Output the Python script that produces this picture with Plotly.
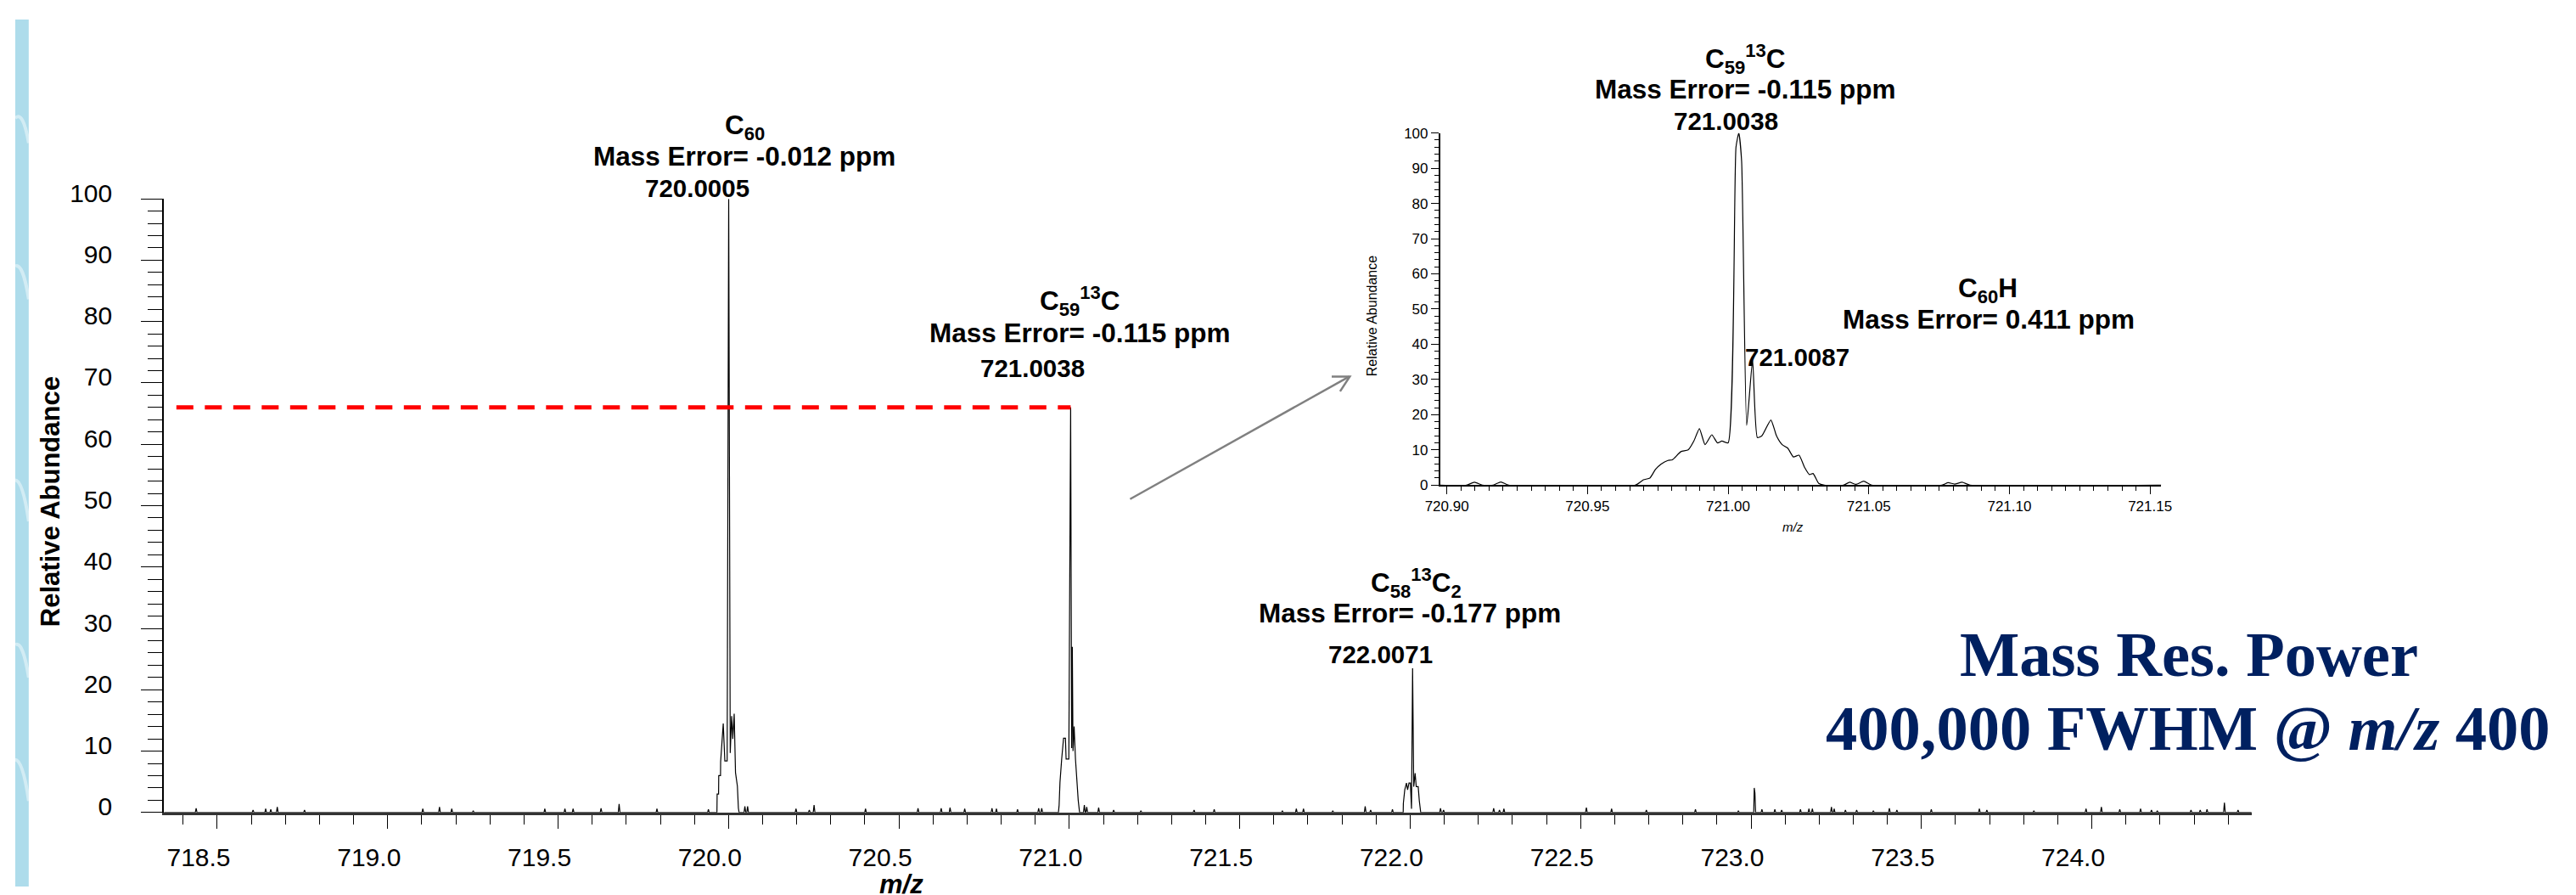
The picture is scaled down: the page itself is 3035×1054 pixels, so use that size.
import plotly.graph_objects as go

W, H = 3035, 1054

# ---------------- data ----------------
# main spectrum x-range (m/z)
main_range = [718.3436, 724.4688]

# small noise spikes on the baseline (m/z, relative abundance %)
noise_mz = [718.438, 718.605, 718.642, 718.657, 718.676, 718.756, 719.103, 719.152, 719.188,
            719.251, 719.461, 719.520, 719.544, 719.626, 719.679, 719.790, 719.941, 720.048,
            720.056, 720.198, 720.237, 720.251, 720.402, 720.556, 720.624, 720.650, 720.693,
            720.773, 720.786, 720.848, 720.910, 720.919, 721.044, 721.051, 721.086, 721.130,
            721.210, 721.366, 721.425, 721.625, 721.666, 721.687, 721.773, 721.868, 721.884,
            721.948, 722.089, 722.098, 722.245, 722.262, 722.275, 722.517, 722.591, 722.693,
            722.837, 722.963, 723.032, 723.070, 723.090, 723.145, 723.170, 723.180, 723.236,
            723.244, 723.277, 723.310, 723.359, 723.406, 723.428, 723.529, 723.670, 723.692,
            723.830, 723.983, 724.028, 724.082, 724.143, 724.175, 724.192, 724.291, 724.318,
            724.338, 724.389, 724.429]
noise_int = [0.7, 0.4, 0.6, 0.5, 0.9, 0.4, 0.6, 0.9, 0.6,
             0.3, 0.6, 0.6, 0.6, 0.7, 1.4, 0.6, 0.5, 1.0,
             1.0, 0.6, 0.4, 1.2, 0.6, 0.7, 0.7, 0.8, 0.6,
             0.7, 0.6, 0.5, 0.7, 0.7, 1.2, 0.9, 0.8, 0.4,
             0.3, 0.4, 0.5, 0.3, 0.6, 0.6, 0.3, 1.0, 0.4,
             0.5, 0.7, 0.4, 0.7, 0.4, 0.6, 0.8, 0.6, 0.4,
             0.5, 0.3, 0.5, 0.5, 0.4, 0.5, 0.6, 0.6, 0.9,
             0.6, 0.4, 0.4, 0.3, 0.7, 0.4, 0.5, 0.6, 0.4,
             0.3, 0.6, 0.9, 0.5, 0.6, 0.4, 0.3, 0.4, 0.4,
             0.5, 1.6, 0.4]

# isotope clusters (profile points)
c60_mz = [719.9660, 719.9666, 719.9708, 719.9713, 719.9765, 719.9769, 719.9845, 719.9892,
          719.9960, 720.0005, 720.0050, 720.0092, 720.0125, 720.0166, 720.0205, 720.0260,
          720.0290, 720.0310]
c60_int = [0, 3.0, 3.0, 6.0, 6.0, 8.3, 14.5, 8.4,
           8.4, 100.0, 9.7, 15.7, 12.0, 16.1, 6.5, 4.3,
           0.7, 0]

c721_mz = [720.9680, 720.9700, 720.9725, 720.9775, 720.9830, 720.9885, 720.9905, 720.9985,
           721.0038, 721.0068, 721.0087, 721.0108, 721.0140, 721.0180, 721.0215, 721.0260,
           721.0300]
c721_int = [0, 1.2, 4.9, 8.7, 12.1, 12.1, 8.7, 8.7,
            66.0, 10.5, 27.0, 10.0, 14.0, 8.7, 5.3, 2.0,
            0]

c722_mz = [721.9795, 721.9800, 721.9841, 721.9891, 721.9924, 721.9965, 722.0006, 722.0039,
           722.0071, 722.0104, 722.0145, 722.0178, 722.0235, 722.0268, 722.0309]
c722_int = [0, 1.5, 3.7, 4.8, 3.7, 4.8, 4.8, 0.6,
            23.5, 4.2, 6.4, 4.2, 4.2, 1.9, 0]

c723_mz = [723.0080, 723.0095, 723.0115, 723.0135]
c723_int = [0, 4.0, 3.2, 0]

# inset: zoom of the 721 cluster
inset_range = [720.8976, 721.1540]
inset_mz = [720.8976, 720.9070, 720.9098, 720.9126, 720.9165, 720.9192, 720.9220, 720.9670,
            720.9699, 720.9722, 720.9742, 720.9762, 720.9786, 720.9802, 720.9832, 720.9858,
            720.9878, 720.9898, 720.9918, 720.9942, 720.9962, 720.9978, 721.0000, 721.0028,
            721.0038, 721.0048, 721.0066, 721.0087, 721.0104, 721.0120, 721.0152, 721.0172,
            721.0192, 721.0212, 721.0232, 721.0252, 721.0272, 721.0289, 721.0302, 721.0322,
            721.0342, 721.0410, 721.0432, 721.0455, 721.0482, 721.0510, 721.0760, 721.0782,
            721.0805, 721.0832, 721.0860, 721.1540]
inset_int = [0, 0, 0.8, 0, 0, 0.9, 0, 0,
             1.5, 2.0, 4.5, 6.0, 7.0, 7.2, 9.5, 10.0,
             12.5, 16.0, 11.5, 14.3, 12.0, 12.5, 12.0, 96.0,
             100.0, 92.0, 17.0, 35.5, 13.5, 14.0, 18.5, 14.0,
             11.5, 10.5, 8.0, 8.5, 5.0, 3.0, 3.3, 0.5,
             0, 0, 0.8, 0.2, 1.1, 0, 0, 0.7,
             0.3, 0.8, 0, 0]

# reference level of the 13C isotope peak (dashed red line)
ref_level = 66.0
ref_start = 718.380
ref_end = 721.0038

# ---------------- build main profile ----------------
pts = [(main_range[0], 0.0), (main_range[1], 0.0)]
hw = 0.0025
for m, h in zip(noise_mz, noise_int):
    pts += [(m - hw, 0.0), (m, h), (m + hw, 0.0)]
for xs, ys in [(c60_mz, c60_int), (c721_mz, c721_int), (c722_mz, c722_int), (c723_mz, c723_int)]:
    pts += list(zip(xs, ys))
pts.sort(key=lambda p: p[0])
main_x = [p[0] for p in pts]
main_y = [p[1] for p in pts]

FONT = "Liberation Sans, Arial, sans-serif"
SERIF = "Liberation Serif, Times New Roman, serif"

fig = go.Figure()
fig.add_trace(go.Scatter(x=main_x, y=main_y, mode="lines",
                         line=dict(color="black", width=1.2), xaxis="x", yaxis="y",
                         hoverinfo="skip"))
fig.add_trace(go.Scatter(x=inset_mz, y=inset_int, mode="lines",
                         line=dict(color="black", width=1.2, shape="spline", smoothing=0.5),
                         xaxis="x2", yaxis="y2", hoverinfo="skip"))


def px(x):
    return x / W


def py(y):
    return 1 - y / H


annotations = []


def ann(text, x, y, size, weight="bold", style="normal", family=FONT, color="black", angle=0):
    annotations.append(dict(
        text=text, x=px(x), y=py(y), xref="paper", yref="paper",
        showarrow=False, xanchor="center", yanchor="middle", textangle=angle,
        font=dict(family=family, size=size, color=color, weight=weight, style=style)))


LBL = 31.5   # formula / mass-error lines
VAL = 29.5   # peak m/z values

# main peak labels
ann("C<sub>60</sub>", 868, 131, LBL)
ann("Mass Error= -0.012 ppm", 868, 166, LBL)
ann("720.0005", 812, 205, VAL)

ann("C<sub>59</sub><sup>13</sup>C", 1267, 342, LBL)
ann("Mass Error= -0.115 ppm", 1267, 381, LBL)
ann("721.0038", 1211, 424, VAL)

ann("C<sub>58</sub><sup>13</sup>C<sub>2</sub>", 1668, 685, LBL)
ann("Mass Error= -0.177 ppm", 1660, 722, LBL)
ann("722.0071", 1625, 772, VAL)

# inset labels
ann("C<sub>59</sub><sup>13</sup>C", 2060, 48, LBL)
ann("Mass Error= -0.115 ppm", 2060, 85, LBL)
ann("721.0038", 2036, 123, VAL)
ann("C<sub>60</sub>H", 2348, 329, LBL)
ann("Mass Error= 0.411 ppm", 2349, 364, LBL)
ann("721.0087", 2121, 410, VAL)

# big resolving power text
ann("Mass Res. Power", 2587, 772, 74.5, family=SERIF, color="#002060")
ann("400,000 FWHM @ <i>m/z</i> 400", 2586, 862, 74.5, family=SERIF, color="#002060")

# axis titles
ann("Relative Abundance", 42, 586, 31, angle=-90)
ann("m/z", 1055, 1051, 31, style="italic")
ann("Relative Abundance", 1615, 361, 16, weight="normal", angle=-90)
ann("m/z", 2116, 617, 15, weight="normal", style="italic")

shapes = [
    # left decorative strip
    dict(type="rect", xref="paper", yref="paper", x0=0, x1=px(16), y0=0, y1=1,
         fillcolor="#AEDCEB", line=dict(width=0), layer="below"),
]
# faint wave strokes in the strip
for y0, y1 in [(120, 150), (300, 340), (560, 610), (760, 800), (900, 950)]:
    shapes.append(dict(type="path", xref="paper", yref="paper", layer="below",
                       path=f"M 0,{py(y0)} Q {px(9)},{py((y0 + y1) / 2 - 25)} {px(16)},{py(y1)}",
                       line=dict(color="rgba(255,255,255,0.45)", width=4)))
shapes += [
    # red dashed reference line
    dict(type="line", xref="x", yref="y", x0=ref_start, x1=ref_end, y0=ref_level, y1=ref_level,
         line=dict(color="#FF0000", width=5, dash="20px,13.5px")),
    # arrow to inset
    dict(type="line", xref="paper", yref="paper", x0=px(1327), y0=py(583), x1=px(1588), y1=py(434),
         line=dict(color="#808080", width=2.5)),
    dict(type="path", xref="paper", yref="paper",
         path=f"M {px(1567)},{py(434)} L {px(1588.5)},{py(434)} L {px(1577)},{py(452)}",
         line=dict(color="#808080", width=2.5)),
]

tickfont_main = dict(family=FONT, size=30, color="black")
tickfont_inset = dict(family=FONT, size=17, color="black")

fig.update_layout(
    width=W, height=H, margin=dict(l=0, r=0, t=0, b=0),
    paper_bgcolor="white", plot_bgcolor="rgba(0,0,0,0)", showlegend=False,
    annotations=annotations, shapes=shapes,
    xaxis=dict(domain=[px(177), px(2662)], range=main_range, anchor="y",
               showgrid=False, zeroline=False, showline=True, linecolor="#333333", linewidth=2.5,
               ticks="outside", ticklen=16, tickwidth=1.3, tickcolor="black",
               tick0=0, dtick=0.5, tickformat=".1f", tickfont=tickfont_main,
               ticklabelshift=-22, ticklabelstandoff=8,
               minor=dict(ticks="outside", ticklen=11, tick0=0, dtick=0.1,
                          tickcolor="black", tickwidth=1.3, showgrid=False)),
    yaxis=dict(domain=[1 - 964 / H, 1 - 218 / H], range=[0, 100], anchor="x",
               showgrid=False, zeroline=False, showline=True, linecolor="black", linewidth=2,
               ticks="outside", ticklen=25, tickwidth=1.3, tickcolor="black",
               tick0=0, dtick=10, tickfont=tickfont_main, ticklabelstandoff=28,
               ticklabelshift=-7,
               minor=dict(ticks="outside", ticklen=17, tick0=0, dtick=2,
                          tickcolor="black", tickwidth=1.3, showgrid=False)),
    xaxis2=dict(domain=[px(1696), px(2554.5)], range=inset_range, anchor="y2",
                showgrid=False, zeroline=False, showline=True, linecolor="black", linewidth=1.5,
                ticks="outside", ticklen=9, tickwidth=1, tickcolor="black",
                tick0=0, dtick=0.05, tickformat=".2f", tickfont=tickfont_inset,
                minor=dict(ticks="outside", ticklen=5, tick0=0, dtick=0.005,
                           tickcolor="black", tickwidth=1, showgrid=False)),
    yaxis2=dict(domain=[1 - 566 / H, 1 - 138 / H], range=[0, 100], anchor="x2",
                showgrid=False, zeroline=False, showline=True, linecolor="black", linewidth=1.5,
                ticks="outside", ticklen=9, tickwidth=1, tickcolor="black",
                tick0=0, dtick=10, tickfont=tickfont_inset,
                minor=dict(ticks="outside", ticklen=5, tick0=0, dtick=2,
                           tickcolor="black", tickwidth=1, showgrid=False)),
)

fig.write_html("out.html", config={"displayModeBar": False},
               post_script="document.body.style.margin='0';document.body.style.overflow='hidden';")
